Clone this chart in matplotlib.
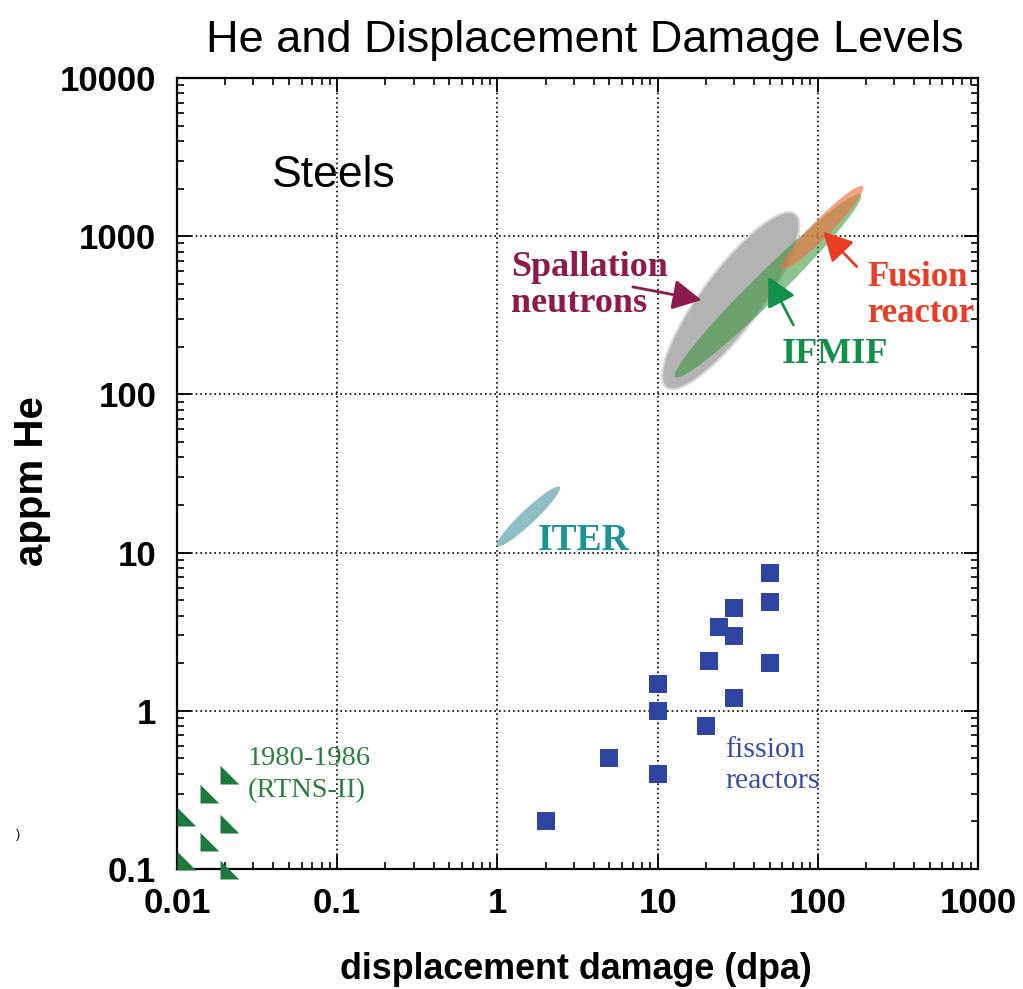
import numpy as np
import matplotlib
matplotlib.use("Agg")
import matplotlib.pyplot as plt
from matplotlib.ticker import LogLocator, NullFormatter, FixedLocator, FixedFormatter

# ---------------- data ----------------
fission_dpa = [2, 5, 10, 10, 10, 20, 21, 24, 30, 30, 30, 50, 50, 50]
fission_he = [0.2, 0.5, 0.4, 1.0, 1.48, 0.8, 2.07, 3.4, 4.45, 2.97, 1.2, 7.4, 4.9, 2.0]

rtns_dpa = [0.01, 0.01, 0.0139, 0.0139, 0.0185, 0.0185, 0.0185]
rtns_he = [0.098, 0.187, 0.13, 0.262, 0.086, 0.17, 0.343]

# ellipse regions: centre (dpa, appm He), semi-axes in decades, angle (deg)
region_names = ["Spallation", "IFMIF", "Fusion", "ITER"]
region_cx = [28.6, 48.9, 106.5, 1.56]
region_cy = [391, 486, 1132, 16.9]
region_a = [0.68, 0.817, 0.365, 0.27]
region_b = [0.185, 0.088, 0.057, 0.045]
region_ang = [53.8, 44.9, 45.8, 43.7]

xticks = [0.01, 0.1, 1, 10, 100, 1000]
xticklabels = ["0.01", "0.1", "1", "10", "100", "1000"]
yticks = [0.1, 1, 10, 100, 1000, 10000]
yticklabels = ["0.1", "1", "10", "100", "1000", "10000"]

# ---------------- figure ----------------
W, H = 1023, 989
fig = plt.figure(figsize=(W / 100, H / 100), dpi=100)
ax = fig.add_axes([177 / W, 1 - 869 / H, (978 - 177) / W, (869 - 78) / H])
ax.set_xscale("log")
ax.set_yscale("log")
ax.set_xlim(0.01, 1000)
ax.set_ylim(0.1, 10000)
ax.set_axisbelow(True)

sans = ["Liberation Sans", "DejaVu Sans"]
serif = ["Liberation Serif", "DejaVu Serif"]

for s in ax.spines.values():
    s.set_linewidth(1.6)

ax.xaxis.set_major_locator(FixedLocator(xticks))
ax.xaxis.set_major_formatter(FixedFormatter(xticklabels))
ax.yaxis.set_major_locator(FixedLocator(yticks))
ax.yaxis.set_major_formatter(FixedFormatter(yticklabels))
ax.xaxis.set_minor_locator(LogLocator(base=10, subs=np.arange(2, 10), numticks=20))
ax.yaxis.set_minor_locator(LogLocator(base=10, subs=np.arange(2, 10), numticks=20))
ax.xaxis.set_minor_formatter(NullFormatter())
ax.yaxis.set_minor_formatter(NullFormatter())
ax.tick_params(which="both", direction="in", top=True, right=True, color="black")
ax.tick_params(which="major", length=10, width=1.3)
ax.tick_params(which="minor", length=5, width=1.2)
ax.tick_params(axis="x", which="major", pad=13)
ax.tick_params(axis="y", which="major", pad=15)
for lab in ax.get_xticklabels() + ax.get_yticklabels():
    lab.set_fontfamily(sans)
    lab.set_fontweight("bold")
    lab.set_fontsize(25)

ax.grid(True, which="major", color="black", linestyle=(0, (1, 1.8)), linewidth=1.2)


def ellipse(cx, cy, a, b, ang):
    t = np.linspace(0, 2 * np.pi, 300)
    th = np.deg2rad(ang)
    lx = np.log10(cx) + a * np.cos(t) * np.cos(th) - b * np.sin(t) * np.sin(th)
    ly = np.log10(cy) + a * np.cos(t) * np.sin(th) + b * np.sin(t) * np.cos(th)
    return 10 ** lx, 10 ** ly


styles = {
    "Spallation": dict(facecolor="#b3b3b3", edgecolor="#d9d9d9", linewidth=1.5, alpha=1.0, zorder=3),
    "IFMIF": dict(facecolor="#359437", edgecolor="none", linewidth=0, alpha=0.56, zorder=4),
    "Fusion": dict(facecolor="#ec7440", edgecolor="none", linewidth=0, alpha=0.65, zorder=5),
    "ITER": dict(facecolor="#8fbfc5", edgecolor="none", linewidth=0, alpha=1.0, zorder=3),
}
for n, cx, cy, a, b, ang in zip(region_names, region_cx, region_cy, region_a, region_b, region_ang):
    ex, ey = ellipse(cx, cy, a, b, ang)
    ax.fill(ex, ey, **styles[n])

# fission reactors (squares)
ax.plot(fission_dpa, fission_he, linestyle="none", marker="s", markersize=13,
        color="#2e46a2", markeredgewidth=0, zorder=6)

# RTNS-II triangles (right-angle corner anchored at the data point)
tri = [(0, 0), (1, 0), (0, 1), (0, 0)]
ax.plot(rtns_dpa, rtns_he, linestyle="none", marker=tri, markersize=27,
        color="#1d7a3c", markeredgewidth=0, zorder=6, clip_on=False)

# annotations (multi-line texts anchored at the baseline of their last line)
ax.text(0.039, 2055, "Steels", fontsize=32, family=sans, ha="left", va="baseline")

arrow_style = "-|>,head_length=0.8,head_width=0.42"
ax.annotate("", xy=(18.8, 395), xytext=(7.0, 478),
            arrowprops=dict(arrowstyle=arrow_style, color="#8c1a4c",
                            lw=2.0, mutation_scale=22, shrinkA=0, shrinkB=0), zorder=7)
ax.text(1.22, 332, "Spallation\nneutrons", fontsize=26, family=serif, fontweight="bold",
        color="#8c1a4c", ha="left", va="baseline", linespacing=1.12, zorder=7)

ax.annotate("", xy=(49.1, 555), xytext=(70.3, 275),
            arrowprops=dict(arrowstyle=arrow_style, color="#12904a",
                            lw=2.0, mutation_scale=22, shrinkA=0, shrinkB=0), zorder=7)
ax.text(59.6, 158, "IFMIF", fontsize=26, family=serif, fontweight="bold",
        color="#12904a", ha="left", va="baseline", zorder=7)

ax.annotate("", xy=(108, 1069), xytext=(175, 642),
            arrowprops=dict(arrowstyle=arrow_style, color="#ea3d26",
                            lw=2.0, mutation_scale=22, shrinkA=0, shrinkB=0), zorder=7)
ax.text(203, 287, "Fusion\nreactor", fontsize=25, family=serif, fontweight="bold",
        color="#ea3d26", ha="left", va="baseline", linespacing=1.12, zorder=7, clip_on=False)

ax.text(1.79, 10.4, "ITER", fontsize=27, family=serif, fontweight="bold",
        color="#1a9494", ha="left", va="baseline", zorder=7)

ax.text(26.4, 0.325, "fission\nreactors", fontsize=21.5, family=serif,
        color="#3a4aa8", ha="left", va="baseline", linespacing=1.25, zorder=7)

ax.text(0.0277, 0.285, "1980-1986\n(RTNS-II)", fontsize=20.5, family=serif,
        color="#2a8040", ha="left", va="baseline", linespacing=1.35, zorder=7)

# titles and axis labels
fig.text(584.5 / W, 1 - 52 / H, "He and Displacement Damage Levels", fontsize=32.5,
         family=sans, ha="center", va="baseline")
fig.text(576 / W, 1 - 979 / H, "displacement damage (dpa)", fontsize=25.8,
         family=sans, fontweight="bold", ha="center", va="baseline")
fig.text(32 / W, 1 - 481 / H, "appm He", fontsize=29, family=sans, fontweight="bold",
         rotation=90, ha="center", va="center")
fig.text(18 / W, 1 - 835 / H, ")", fontsize=9, family=sans, ha="center", va="center")

fig.savefig("out.png", dpi=100, facecolor="white")
